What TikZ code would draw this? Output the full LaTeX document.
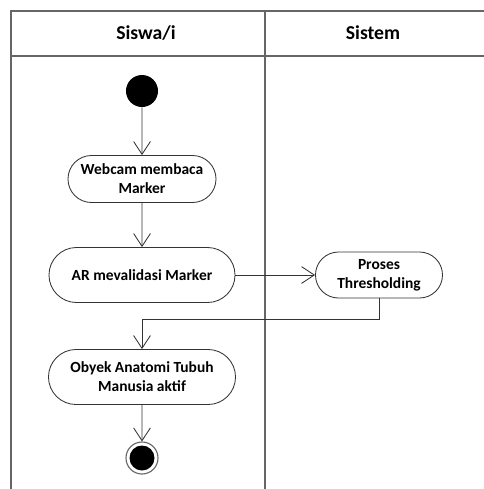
\documentclass[tikz,border=0pt]{standalone}
\usepackage{fontspec}
\setmainfont{Carlito}
\usetikzlibrary{arrows.meta}
\usetikzlibrary{shapes.misc}

\begin{document}
\begin{tikzpicture}[x=0.025cm,y=-0.025cm,
	act/.style={draw=black!80, line width=0.6pt, rounded rectangle, align=center,
		font=\fontsize{11}{13.5}\selectfont\bfseries, inner sep=0pt},
	flow/.style={draw=black!80, line width=0.6pt, -{Straight Barb[length=3.2mm,width=4.2mm]}},
	lane/.style={draw=black!60, line width=1pt},
	head/.style={font=\fontsize{14}{16}\selectfont\bfseries}]

		\useasboundingbox (0,0) rectangle (484,489);

		% swimlanes
		\draw [lane] (484,11) -- (11,11) -- (11,489);
		\draw [lane] (11,56) -- (484,56);
		\draw [lane] (265,11) -- (265,489);

		\node [head] (Siswa) at (146,33) {Siswa/i};
		\node [head] (Sistem) at (373,33) {Sistem};

		% activities
		\node [circle, fill=black, minimum size=0.8cm, inner sep=0pt] (Start) at (142,91) {};
		\node [act, minimum width=3.7cm, minimum height=1.175cm] (Webcam) at (142,179) {Webcam membaca\\Marker};
		\node [act, minimum width=4.65cm, minimum height=1.375cm] (AR) at (142,275) {AR mevalidasi Marker};
		\node [act, minimum width=3.175cm, minimum height=1.15cm] (Proses) at (379,275) {Proses\\Thresholding};
		\node [act, minimum width=4.675cm, minimum height=1.375cm] (Obyek) at (142,377) {Obyek Anatomi Tubuh\\Manusia aktif};
		\node [circle, draw=black!60, line width=0.8pt, minimum size=0.8cm, inner sep=0pt] (End) at (142,458) {};
		\fill (End.center) circle (12.5);

		% control flow
		\draw [flow] (Start) -- (Webcam);
		\draw [flow] (Webcam) -- (AR);
		\draw [flow] (AR.east) -- (Proses.west);
		\draw [flow] (Proses.south) -- ++(0,21) -| (Obyek.north);
		\draw [flow] (Obyek) -- (End);

\end{tikzpicture}
\end{document}
